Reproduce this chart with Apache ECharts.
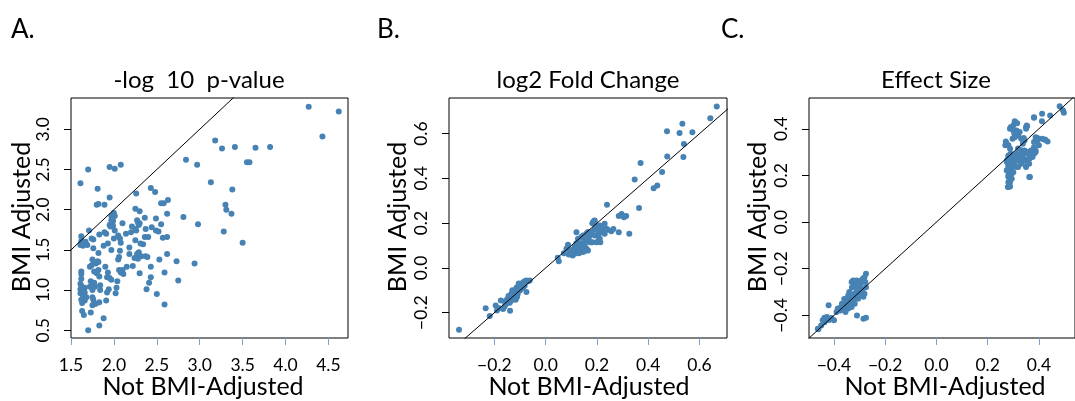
<!DOCTYPE html>
<html><head><meta charset="utf-8">
<script src="https://cdn.jsdelivr.net/npm/echarts@6/dist/echarts.min.js"></script>
<style>html,body{margin:0;padding:0;background:#fff}#c{width:1075px;height:401px}</style>
</head><body><div id="c"></div>
<script>
const panelLetters = ['A.', 'B.', 'C.'];
const panelTitles = ['-log  10  p-value', 'log2 Fold Change', 'Effect Size'];
const xAxisTitle = 'Not BMI-Adjusted';
const yAxisTitle = 'BMI Adjusted';

const pvalXTicks = [1.5, 2.0, 2.5, 3.0, 3.5, 4.0, 4.5];
const pvalYTicks = [0.5, 1.0, 1.5, 2.0, 2.5, 3.0];
const foldXTicks = [-0.2, 0.0, 0.2, 0.4, 0.6];
const foldYTicks = [-0.2, 0.0, 0.2, 0.4, 0.6];
const effectXTicks = [-0.4, -0.2, 0.0, 0.2, 0.4];
const effectYTicks = [-0.4, -0.2, 0.0, 0.2, 0.4];

const pvalXRange = [1.5, 4.728];
const pvalYRange = [0.404, 3.389];
const foldXRange = [-0.377, 0.707];
const foldYRange = [-0.313, 0.759];
const effectXRange = [-0.4975, 0.541];
const effectYRange = [-0.497, 0.532];

const pvalPoints = [
[4.27,3.28],[4.62,3.22],[4.43,2.91],[3.18,2.86],[3.26,2.76],[3.41,2.78],[3.65,2.77],[3.82,2.78],[3.55,2.59],[3.58,2.59],
[2.84,2.62],[2.97,2.56],[3.13,2.34],[3.38,2.25],[3.30,2.06],[3.31,2.00],[3.37,1.95],[2.81,1.91],[2.98,1.82],[3.28,1.73],
[3.50,1.59],[2.94,1.33],[2.75,1.12],[2.73,1.36],[2.59,0.82],[2.50,0.95],[2.59,1.22],[2.62,1.45],[2.62,1.66],[2.57,1.65],
[2.62,1.95],[2.63,2.12],[2.58,2.08],[2.55,2.08],[2.48,2.22],[2.43,2.27],[2.49,1.89],[2.55,1.82],[2.44,1.78],[2.49,1.74],
[2.52,1.73],[2.53,1.38],[2.43,1.29],[2.43,1.16],[2.41,1.09],[2.38,1.01],[2.36,1.66],[2.36,1.90],[2.39,1.41],[2.34,1.57],
[2.32,1.42],[2.30,1.21],[2.30,1.83],[2.30,1.98],[2.25,2.01],[2.26,2.20],[2.25,1.62],[2.29,1.47],[2.27,1.45],[2.24,1.40],
[2.25,1.76],[2.21,1.79],[2.28,1.84],[2.22,1.30],[2.18,1.53],[2.18,1.45],[2.15,1.29],[2.14,1.70],[2.10,1.83],[2.11,1.20],
[2.08,1.59],[2.07,1.49],[2.06,1.41],[2.05,1.38],[2.06,1.25],[2.04,1.11],[2.03,1.03],[2.02,0.96],[2.01,1.74],[2.01,1.92],
[1.99,1.86],[1.99,1.80],[2.00,1.64],[1.97,1.50],[1.93,1.58],[1.97,1.92],[1.95,1.81],[2.00,1.96],[2.08,2.56],[2.01,2.51],
[1.95,2.53],[1.95,2.15],[1.89,2.06],[1.82,2.07],[1.80,2.06],[1.81,2.26],[1.70,2.50],[1.61,2.33],[1.89,1.72],[1.91,1.70],
[1.88,1.55],[1.90,1.29],[1.93,1.22],[1.92,1.16],[1.94,1.01],[1.92,0.97],[1.91,0.87],[1.88,0.65],[1.83,0.56],[1.70,0.50],
[1.84,1.06],[1.84,1.00],[1.83,0.85],[1.82,1.46],[1.82,1.35],[1.82,1.25],[1.79,1.33],[1.77,1.09],[1.76,1.63],[1.71,1.74],
[1.76,1.52],[1.75,1.38],[1.74,1.31],[1.77,1.23],[1.73,1.11],[1.72,1.04],[1.76,0.88],[1.77,0.83],[1.73,0.72],[1.67,1.60],
[1.69,1.56],[1.64,1.55],[1.62,1.67],[1.61,1.56],[1.62,1.20],[1.62,1.14],[1.61,1.08],[1.61,1.01],[1.61,0.96],[1.66,1.03],
[1.66,0.97],[1.63,0.84],[1.66,0.87],[1.68,0.91],[1.63,0.74],[1.65,0.69],[1.62,1.23],[1.97,1.87],[1.96,1.79],[2.27,1.87],
[2.29,1.81],[2.40,1.66],[2.31,1.58],[2.28,1.39],[2.37,1.42],[2.10,1.25],[2.08,1.22],[1.95,1.15],[1.97,1.13],[2.05,1.68],
[2.07,1.64],[2.20,1.72],[2.26,1.74],[2.37,1.76],[1.74,1.64],[1.83,1.69],[1.62,1.61],[1.77,1.35],[1.81,1.36],[1.72,1.29],
[1.80,1.21],[1.83,1.17],[1.62,1.05],[1.64,1.02],[1.63,0.99],[1.64,0.93],[1.66,0.91],[1.62,0.88],[1.75,1.07],[1.78,1.04],
[1.75,1.00],[1.75,0.91],[1.75,0.81],[1.79,0.83]
];

const foldPoints = [
[0.667,0.721],[0.642,0.669],[0.533,0.644],[0.473,0.611],[0.522,0.603],[0.572,0.606],[0.539,0.553],[0.537,0.495],[0.474,0.498],[0.370,0.469],
[0.454,0.428],[0.347,0.395],[0.435,0.368],[0.421,0.356],[0.364,0.268],[0.239,0.282],[0.296,0.241],[0.285,0.232],[0.314,0.232],[0.305,0.226],
[0.326,0.153],[0.285,0.159],[0.256,0.164],[0.264,0.174],[0.242,0.170],[0.227,0.189],[0.191,0.211],[0.182,0.200],[0.191,0.174],[0.211,0.156],
[0.208,0.130],[0.213,0.115],[0.201,0.185],[0.182,0.115],[0.155,0.077],[0.120,0.159],
[0.047,0.046],[0.051,0.030],[0.071,0.066],[0.081,0.086],[0.087,0.104],[0.094,0.071],[0.107,0.071],[0.120,0.075],[0.133,0.078],[0.146,0.081],
[0.100,0.063],[0.113,0.063],[0.126,0.130],[0.139,0.138],[0.146,0.145],[0.159,0.153],[0.152,0.123],[0.165,0.130],[0.172,0.115],[0.133,0.108],
[0.139,0.093],[0.152,0.101],[0.159,0.086],[0.165,0.078],[0.146,0.071],[0.126,0.101],[0.113,0.093],[0.198,0.175],[0.211,0.190],[0.224,0.182],
[0.230,0.197],[0.217,0.168],[0.204,0.153],[0.191,0.145],[0.237,0.175],[0.230,0.153],[0.211,0.130],[0.198,0.115],[0.178,0.115],[0.185,0.205],
[0.190,0.212],[0.090,0.060],[0.100,0.080],[0.120,0.090],[0.140,0.110],[0.160,0.120],[0.170,0.140],[0.105,0.055],[0.130,0.065],[0.150,0.100],
[0.180,0.160],[0.165,0.160],[0.120,0.110],
[-0.338,-0.276],[-0.234,-0.180],[-0.218,-0.215],[-0.195,-0.168],[-0.175,-0.145],[-0.190,-0.190],[-0.180,-0.180],[-0.166,-0.183],[-0.160,-0.172],[-0.153,-0.160],
[-0.147,-0.145],[-0.140,-0.130],[-0.134,-0.115],[-0.127,-0.108],[-0.121,-0.101],[-0.114,-0.089],[-0.108,-0.083],[-0.101,-0.078],[-0.095,-0.071],[-0.088,-0.065],
[-0.082,-0.060],[-0.075,-0.056],[-0.069,-0.059],[-0.062,-0.056],[-0.134,-0.145],[-0.127,-0.133],[-0.121,-0.123],[-0.114,-0.115],[-0.108,-0.108],[-0.101,-0.101],
[-0.095,-0.093],[-0.088,-0.086],[-0.082,-0.080],[-0.117,-0.142],[-0.112,-0.130],[-0.139,-0.191],[-0.075,-0.108],[-0.150,-0.140],[-0.130,-0.120],[-0.120,-0.110],
[-0.100,-0.090],[-0.090,-0.080],[-0.140,-0.155],[-0.125,-0.140],[-0.110,-0.120],[-0.160,-0.150],[-0.145,-0.125],[-0.105,-0.070],[-0.085,-0.075],[-0.130,-0.100]
];

const effectPoints = [
[-0.461,-0.459],[-0.450,-0.443],[-0.4375,-0.410],[-0.4275,-0.407],[-0.419,-0.420],[-0.410,-0.411],[-0.400,-0.421],[-0.421,-0.357],[-0.310,-0.400],[-0.285,-0.414],
[-0.275,-0.410],[-0.463,-0.457],[-0.444,-0.421],[-0.437,-0.429],
[-0.375,-0.379],[-0.3625,-0.371],[-0.369,-0.350],[-0.356,-0.343],[-0.350,-0.329],[-0.344,-0.314],[-0.3375,-0.307],[-0.331,-0.336],[-0.325,-0.321],[-0.319,-0.307],
[-0.3125,-0.300],[-0.300,-0.293],[-0.2875,-0.286],[-0.281,-0.307],[-0.275,-0.279],[-0.294,-0.314],[-0.306,-0.329],[-0.319,-0.350],[-0.331,-0.364],[-0.344,-0.371],
[-0.350,-0.364],[-0.331,-0.257],[-0.325,-0.250],[-0.3125,-0.250],[-0.300,-0.253],[-0.294,-0.261],[-0.2875,-0.243],[-0.281,-0.236],[-0.275,-0.221],[-0.2775,-0.257],
[-0.300,-0.279],[-0.360,-0.360],[-0.340,-0.340],[-0.330,-0.320],[-0.320,-0.330],[-0.340,-0.300],[-0.310,-0.310],[-0.355,-0.385],[-0.370,-0.360],[-0.380,-0.370],
[-0.330,-0.280],[-0.320,-0.270],[-0.305,-0.270],[-0.290,-0.300],[-0.285,-0.320],[-0.345,-0.350],[-0.335,-0.345],[-0.360,-0.330],[-0.310,-0.285],[-0.295,-0.290],
[-0.290,-0.250],[-0.390,-0.385],[-0.385,-0.370],
[0.271,0.346],[0.281,0.329],[0.2875,0.314],[0.290,0.293],[0.2975,0.279],[0.281,0.279],[0.275,0.264],[0.2875,0.257],[0.300,0.250],[0.281,0.236],
[0.294,0.229],[0.306,0.243],[0.319,0.264],[0.3125,0.279],[0.325,0.286],[0.3375,0.293],[0.344,0.307],[0.356,0.300],[0.369,0.307],[0.381,0.293],
[0.3875,0.300],[0.375,0.279],[0.3625,0.271],[0.350,0.264],[0.331,0.257],[0.3375,0.279],[0.319,0.236],[0.300,0.214],[0.2875,0.207],[0.275,0.221],
[0.281,0.193],[0.294,0.186],[0.281,0.171],[0.2875,0.153],[0.279,0.150],
[0.290,0.407],[0.300,0.414],[0.306,0.429],[0.315,0.424],[0.3125,0.393],[0.325,0.386],[0.319,0.371],[0.306,0.364],[0.331,0.357],[0.350,0.407],
[0.3525,0.414],[0.344,0.350],[0.3375,0.336],
[0.381,0.450],[0.4125,0.464],[0.444,0.457],[0.4125,0.357],[0.425,0.353],[0.434,0.346],[0.3875,0.364],[0.394,0.350],[0.381,0.343],[0.400,0.329],
[0.3625,0.193],[0.350,0.236],[0.481,0.497],[0.494,0.479],[0.4975,0.469],
[0.412,0.432],[0.381,0.447],[0.354,0.411],[0.350,0.400],[0.306,0.432],[0.294,0.407],[0.300,0.393],[0.287,0.400],[0.304,0.379],[0.297,0.357],
[0.275,0.336],[0.269,0.329],[0.341,0.360],[0.394,0.360],[0.421,0.354],[0.381,0.321],[0.387,0.307],[0.375,0.300],[0.287,0.171],[0.281,0.150],
[0.365,0.193],[0.319,0.315],[0.331,0.308],[0.344,0.300],[0.356,0.293],[0.369,0.289],[0.312,0.293],[0.325,0.279],[0.337,0.272],[0.350,0.265],
[0.362,0.272],[0.281,0.286],[0.287,0.272],[0.294,0.258],[0.275,0.258],[0.281,0.243],[0.300,0.243],[0.287,0.229],[0.275,0.222],[0.294,0.208],
[0.281,0.200],[0.306,0.265],[0.312,0.236],[0.331,0.250],[0.350,0.240],[0.362,0.250]
];

const FONT = 'Lato, "Open Sans", sans-serif';
const BLUE = '#4682b4';
const XTICK = '#7ba3d3';

const panels = [
  {pts: pvalPoints, xr: pvalXRange, yr: pvalYRange, xt: pvalXTicks, yt: pvalYTicks,
   grid: {left: 71, top: 98, width: 277, height: 240}, letterX: 11, titleX: 199, xNameX: 203, yNameX: 22},
  {pts: foldPoints, xr: foldXRange, yr: foldYRange, xt: foldXTicks, yt: foldYTicks,
   grid: {left: 449, top: 98, width: 278, height: 240}, letterX: 377, titleX: 588, xNameX: 589, yNameX: 398},
  {pts: effectPoints, xr: effectXRange, yr: effectYRange, xt: effectXTicks, yt: effectYTicks,
   grid: {left: 809, top: 98, width: 277, height: 240}, letterX: 721, titleX: 936, xNameX: 945, yNameX: 758}
];

const fmt = v => (v < 0 ? '\u2212' : '') + Math.abs(v).toFixed(1);

const option = {
  animation: false,
  backgroundColor: '#fff',
  grid: panels.map(p => Object.assign({show: true, borderColor: '#000', borderWidth: 1, backgroundColor: 'transparent'}, p.grid)),
  xAxis: panels.map((p, i) => ({
    type: 'value', gridIndex: i, min: p.xr[0], max: p.xr[1], position: 'bottom',
    axisLine: {show: false, onZero: false}, splitLine: {show: false},
    axisTick: {show: true, customValues: p.xt, length: 7, lineStyle: {color: XTICK, width: 1}},
    axisLabel: {customValues: p.xt, formatter: fmt, fontSize: 17.5, color: '#000', fontFamily: FONT, margin: 18}
  })),
  yAxis: panels.map((p, i) => ({
    type: 'value', gridIndex: i, min: p.yr[0], max: p.yr[1], position: 'left',
    axisLine: {show: false, onZero: false}, splitLine: {show: false},
    axisTick: {show: true, customValues: p.yt, length: 7, lineStyle: {color: '#000', width: 1}},
    axisLabel: {customValues: p.yt, formatter: fmt, fontSize: 17.5, color: '#000', fontFamily: FONT, margin: 19, rotate: 90}
  })),
  series: panels.flatMap((p, i) => [
    {type: 'scatter', xAxisIndex: i, yAxisIndex: i, data: p.pts, symbolSize: 6,
     itemStyle: {color: BLUE, opacity: 1}, z: 2, silent: true},
    {type: 'line', xAxisIndex: i, yAxisIndex: i,
     data: [[Math.min(p.xr[0], p.yr[0]) - 0.1, Math.min(p.xr[0], p.yr[0]) - 0.1], [Math.max(p.xr[1], p.yr[1]) + 0.1, Math.max(p.xr[1], p.yr[1]) + 0.1]],
     symbol: 'none', lineStyle: {color: '#000', width: 1}, z: 3, silent: true, clip: true}
  ]),
  graphic: panels.flatMap((p, i) => [
    {type: 'text', x: p.letterX, y: 30, style: {text: panelLetters[i], font: '26px ' + FONT, fill: '#000', align: 'left', verticalAlign: 'middle'}},
    {type: 'text', x: p.titleX, y: 80, style: {text: panelTitles[i], font: '24px ' + FONT, fill: '#000', align: 'center', verticalAlign: 'middle'}},
    {type: 'text', x: p.xNameX, y: 387, style: {text: xAxisTitle, font: '25px ' + FONT, fill: '#000', align: 'center', verticalAlign: 'middle'}},
    {type: 'text', x: p.yNameX, y: 217, rotation: Math.PI / 2, style: {text: yAxisTitle, font: '25px ' + FONT, fill: '#000', align: 'center', verticalAlign: 'middle'}}
  ])
};

const chart = echarts.init(document.getElementById('c'), null, {renderer: 'canvas'});
chart.setOption(option);
</script>
</body></html>
